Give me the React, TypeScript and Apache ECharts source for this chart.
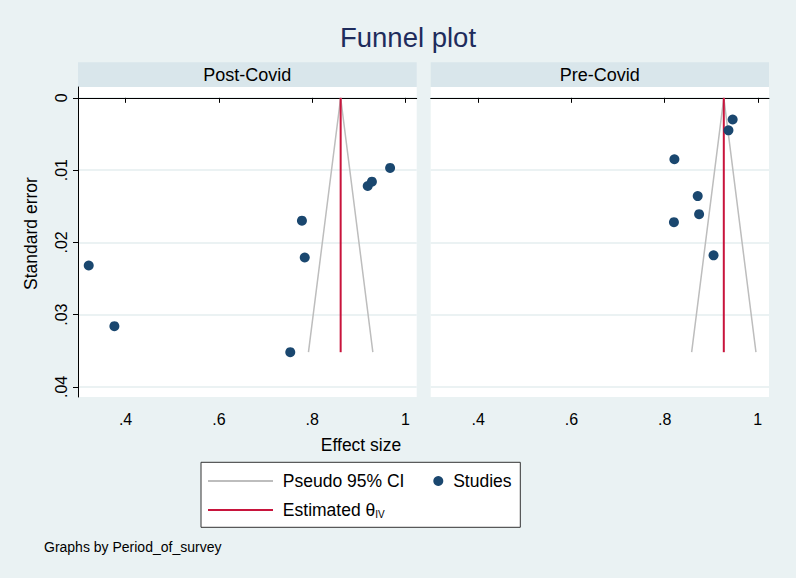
import React, { useEffect, useRef } from "react";
import * as echarts from "echarts";

// ---- data ----
const panelNames = ["Post-Covid", "Pre-Covid"];
const postEffect = [0.321, 0.376, 0.753, 0.778, 0.784, 0.919, 0.928, 0.967];
const postSE = [0.0232, 0.0316, 0.0352, 0.0170, 0.0221, 0.0122, 0.0116, 0.0097];
const preEffect = [0.946, 0.937, 0.821, 0.871, 0.874, 0.820, 0.905];
const preSE = [0.0030, 0.0045, 0.0085, 0.0136, 0.0161, 0.0172, 0.0218];
const thetaIV = [0.861, 0.927];
const seMax = 0.0352;
const z95 = 1.96;
const xTickValues = [0.4, 0.6, 0.8, 1];
const xTickLabels = [".4", ".6", ".8", "1"];
const yTickValues = [0, 0.01, 0.02, 0.03, 0.04];
const yTickLabels = ["0", ".01", ".02", ".03", ".04"];

const FONT = "'Liberation Sans', Arial, Helvetica, sans-serif";
const BG = "#eaf2f3";
const STRIP = "#d9e6eb";
const GRIDLINE = "#e4eeef";
const NAVY = "#1a476f";
const RED = "#c8143c";
const GRAY = "#bdbdbd";

const lookup = (vals: number[], labels: string[]) => (v: number) => {
  const i = vals.findIndex((t) => Math.abs(t - v) < 1e-9);
  return i >= 0 ? labels[i] : "";
};

export default function App() {
  const ref = useRef<HTMLDivElement>(null);
  useEffect(() => {
    if (!ref.current) return;
    const chart = echarts.init(ref.current, undefined, { renderer: "svg" });
    const grids = [
      { left: 78, top: 87, width: 338.7, height: 310 },
      { left: 430.7, top: 87, width: 338.3, height: 310 },
    ];
    const effects = [postEffect, preEffect];
    const ses = [postSE, preSE];

    const xAxes = grids.map((_, i) => ({
      type: "value",
      gridIndex: i,
      min: 0.298,
      max: 1.024,
      axisLine: { show: true, lineStyle: { color: "#000", width: 1 } },
      axisTick: { show: true, length: 5, customValues: xTickValues, lineStyle: { color: "#000" } },
      axisLabel: {
        customValues: xTickValues,
        formatter: lookup(xTickValues, xTickLabels),
        fontSize: 16,
        color: "#000",
        fontFamily: FONT,
        margin: 14,
      },
      splitLine: { show: false },
    }));

    const yAxes = grids.map((_, i) => ({
      type: "value",
      gridIndex: i,
      inverse: true,
      min: -0.0015,
      max: 0.0414,
      axisLine: { show: i === 0, lineStyle: { color: "#000", width: 1 } },
      axisTick: { show: i === 0, length: 5, customValues: yTickValues, lineStyle: { color: "#000" } },
      axisLabel: {
        show: i === 0,
        customValues: yTickValues,
        formatter: lookup(yTickValues, yTickLabels),
        rotate: 90,
        fontSize: 16,
        color: "#000",
        fontFamily: FONT,
        margin: 9,
      },
      splitLine: { show: true, lineStyle: { color: GRIDLINE, width: 1.5 } },
    }));

    const series: any[] = [];
    for (let i = 0; i < 2; i++) {
      const th = thetaIV[i];
      series.push({
        type: "line",
        name: "Pseudo 95% CI",
        xAxisIndex: i,
        yAxisIndex: i,
        data: [
          [th - z95 * seMax, seMax],
          [th, 0],
          [th + z95 * seMax, seMax],
        ],
        symbol: "none",
        lineStyle: { color: GRAY, width: 1.5 },
        itemStyle: { color: GRAY },
        z: 2,
      });
      series.push({
        type: "line",
        name: "Estimated θIV",
        xAxisIndex: i,
        yAxisIndex: i,
        data: [
          [th, 0],
          [th, seMax],
        ],
        symbol: "none",
        lineStyle: { color: RED, width: 2 },
        itemStyle: { color: RED },
        z: 3,
      });
      series.push({
        type: "scatter",
        name: "Studies",
        xAxisIndex: i,
        yAxisIndex: i,
        data: effects[i].map((e, k) => [e, ses[i][k]]),
        symbol: "circle",
        symbolSize: 10,
        itemStyle: { color: NAVY, opacity: 1 },
        z: 4,
      });
    }

    const legendText = {
      fontSize: 17.5,
      color: "#000",
      fontFamily: FONT,
      rich: {
        sub: { fontSize: 10, verticalAlign: "bottom", color: "#000", fontFamily: FONT, padding: [6, 0, 0, 0] },
      },
    };

    chart.setOption({
      animation: false,
      backgroundColor: BG,
      title: {
        text: "Funnel plot",
        left: 408,
        textAlign: "center",
        top: 23,
        padding: 0,
        textStyle: { fontSize: 27.5, fontWeight: "normal", color: "#1e2c5c", fontFamily: FONT },
      },
      grid: grids.map((g) => ({
        ...g,
        show: true,
        backgroundColor: "#ffffff",
        borderWidth: 0,
        containLabel: false,
      })),
      xAxis: xAxes,
      yAxis: yAxes,
      legend: [
        {
          data: [
            { name: "Pseudo 95% CI", icon: "rect" },
            { name: "Estimated θIV", icon: "rect" },
          ],
          orient: "vertical",
          left: 208,
          top: 472,
          padding: 0,
          itemWidth: 65,
          itemHeight: 2,
          itemGap: 11,
          selectedMode: false,
          formatter: (n: string) => (n === "Estimated θIV" ? " Estimated θ{sub|IV}" : " " + n),
          textStyle: legendText,
          z: 10,
        },
        {
          data: [{ name: "Studies", icon: "circle" }],
          orient: "horizontal",
          left: 433.3,
          top: 472,
          padding: 0,
          itemWidth: 10,
          itemHeight: 10,
          selectedMode: false,
          formatter: (n: string) => " " + n,
          textStyle: legendText,
          z: 10,
        },
      ],
      graphic: [
        ...grids.map((g, i) => ({
          type: "group",
          children: [
            {
              type: "rect",
              shape: { x: g.left, y: 62.3, width: g.width, height: 24.7 },
              style: { fill: STRIP },
            },
            {
              type: "text",
              x: g.left + g.width / 2,
              y: 74.6,
              style: {
                text: panelNames[i],
                fontSize: 18,
                fill: "#000",
                fontFamily: FONT,
                textAlign: "center",
                textVerticalAlign: "middle",
              },
            },
          ],
        })),
        {
          type: "text",
          x: 31,
          y: 233.5,
          rotation: Math.PI / 2,
          style: {
            text: "Standard error",
            fontSize: 17.5,
            fill: "#000",
            fontFamily: FONT,
            textAlign: "center",
            textVerticalAlign: "middle",
          },
        },
        {
          type: "rect",
          z: 0,
          shape: { x: 201, y: 462.3, width: 319.3, height: 65 },
          style: { fill: "#ffffff", stroke: "#333333", lineWidth: 1 },
        },
        {
          type: "text",
          x: 361,
          y: 445,
          style: {
            text: "Effect size",
            fontSize: 17.5,
            fill: "#000",
            fontFamily: FONT,
            textAlign: "center",
            textVerticalAlign: "middle",
          },
        },
        {
          type: "text",
          x: 44,
          y: 546.7,
          style: {
            text: "Graphs by Period_of_survey",
            fontSize: 14,
            fill: "#000",
            fontFamily: FONT,
            textAlign: "left",
            textVerticalAlign: "middle",
          },
        },
      ],
      series,
    });
    return () => chart.dispose();
  }, []);
  return (
    <div
      ref={ref}
      style={{ position: "absolute", left: 0, top: 0, width: 796, height: 578 }}
    />
  );
}
